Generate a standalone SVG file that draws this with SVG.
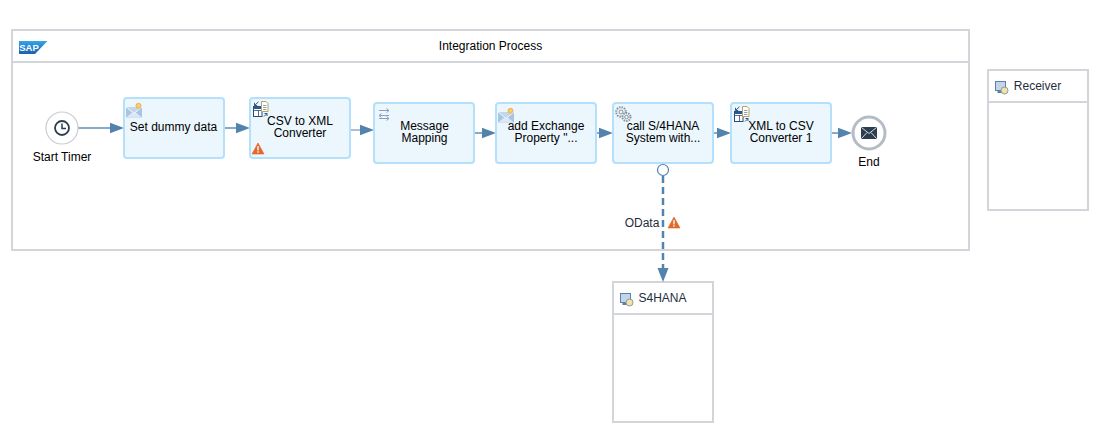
<svg xmlns="http://www.w3.org/2000/svg" width="1106" height="440" viewBox="0 0 1106 440">
<style>
text{font-family:"Liberation Sans",Arial,sans-serif;font-size:12px;fill:#000;text-anchor:middle}
.pool{fill:#fff;stroke:#d2d6db;stroke-width:2}
.hd{fill:none;stroke:#d2d6db;stroke-width:2}
.step{fill:#ebf6fd;stroke:#b5e0fb;stroke-width:2}
.conn{stroke:#8aa9c6;stroke-width:2;fill:none}
.tip{fill:#5382ad}
.dark{fill:#2c3e50}
.lbl{fill:#1f2d3d}
.gear{fill:none;stroke:#8a939c;stroke-width:1}
</style>
<defs>
<linearGradient id="sapg" x1="0" y1="0" x2="0" y2="1"><stop offset="0" stop-color="#35a3e8"/><stop offset="1" stop-color="#1b60b0"/></linearGradient>
<g id="warn"><path d="M6 0L12 11H0Z" fill="#e2692b" stroke="#e2692b" stroke-width="0.600" stroke-linejoin="round"/><rect x="5.300" y="3.200" width="1.400" height="4.200" fill="#fff"/><rect x="5.300" y="8.200" width="1.400" height="1.500" fill="#fff"/></g>
<g id="mail"><rect x="0" y="4" width="16" height="10.500" fill="#a9c4e0"/><path d="M0 14.500L8 8L16 14.500" fill="#dbe8f4"/><path d="M0 4L8 10.500L16 4" fill="#c3d7ea" stroke="#fff" stroke-width="0.800"/><circle cx="12.500" cy="2.800" r="2.500" fill="#f7d54a" stroke="#eda67a" stroke-width="1"/></g>
<g id="conv"><rect x="0.500" y="5.500" width="8.500" height="10" fill="#fff" stroke="#2c4a70"/><rect x="0.500" y="5.500" width="8.500" height="2.500" fill="#2c5a90"/><path d="M0.500 9.500H9M5.500 9.500V15.500" fill="none" stroke="#2c4a70" stroke-width="0.800"/><path d="M8.500 0.500H13L15 2.500V10.500H8.500Z" fill="#fff" stroke="#b8a25c"/><path d="M10 4.500h3.500M10 6.500h3.500M10 8.500h3.500" stroke="#5a7ca0" stroke-width="0.700"/><path d="M5.500 0.800L1.500 4.500M1.500 1.800V4.500H4.200" fill="none" stroke="#2c5a90"/><path d="M11 15.500L14 12.500M11.500 12.500H14V15" fill="none" stroke="#2c5a90"/></g>
<g id="sys"><rect x="0.500" y="0.500" width="10" height="9" fill="#c3d5ea" stroke="#5d7fa8"/><rect x="2.500" y="9.500" width="8" height="2.500" fill="#5d7fa8"/><circle cx="9.500" cy="9.500" r="3.500" fill="#f1e3a0" stroke="#8c9aa8"/></g>
<g id="maparrow"><path d="M0 0.500H10M7.500 -1.500L10 0.500L7.500 2.500" fill="none" stroke="#8aa0bd" stroke-width="1"/></g>
</defs>

<g id="integration-process">
<rect class="pool" x="12" y="30" width="957" height="220"/>
<path class="hd" d="M12 62H969"/>
<path d="M19 41H47.500L35 54H19Z" fill="url(#sapg)"/>
<text x="29" y="51" style="font-size:9.500px;font-weight:bold;fill:#fff">SAP</text>
<text x="490.500" y="50">Integration Process</text>
</g>

<g id="receiver">
<rect class="pool" x="988" y="70" width="100" height="140"/>
<path class="hd" d="M988 102H1088"/>
<use href="#sys" x="995" y="81"/>
<text x="1037.500" y="90" class="lbl">Receiver</text>
</g>

<g id="s4hana">
<rect class="pool" x="613" y="282" width="100" height="140"/>
<path class="hd" d="M613 314H713"/>
<use href="#sys" x="620" y="293"/>
<text x="662.500" y="302" class="lbl">S4HANA</text>
</g>

<g id="connectors">
<path class="conn" d="M78 128H112"/><path class="tip" d="M110 122.800L124 128L110 133.200Z"/>
<path class="conn" d="M224 128H238"/><path class="tip" d="M236 122.800L250 128L236 133.200Z"/>
<path class="conn" d="M350 130H362" style="stroke:#5382ad;stroke-width:1"/><path class="tip" d="M360 124.800L374 130L360 135.200Z"/>
<path class="conn" d="M474 133H484"/><path class="tip" d="M482 127.800L496 133L482 138.200Z"/>
<path class="conn" d="M596 133H601"/><path class="tip" d="M599 127.800L613 133L599 138.200Z"/>
<path class="conn" d="M713 133H719"/><path class="tip" d="M717 127.800L731 133L717 138.200Z"/>
<path class="conn" d="M831 133H840"/><path class="tip" d="M838 127.800L852 133L838 138.200Z"/>
<path d="M663 176V270" fill="none" stroke="#5382ad" stroke-width="2.500" stroke-dasharray="7 4"/>
<path class="tip" d="M657.500 268H668.500L663 282Z"/>
<circle cx="663" cy="170" r="5.500" fill="#fff" stroke="#5382ad" stroke-width="1.200"/>
<g id="odata-label"><text x="642" y="227" class="lbl">OData</text><use href="#warn" x="668" y="217"/></g>
</g>

<g id="start-timer">
<circle cx="62" cy="128" r="16" fill="#fff" stroke="#c8cdd2" stroke-width="1.200"/>
<circle cx="62" cy="128" r="7" fill="none" stroke="#2c3e50" stroke-width="1.800"/>
<path d="M62 123.500V128.500H66" fill="none" stroke="#2c3e50" stroke-width="1.500"/>
<text x="62" y="161">Start Timer</text>
</g>

<g id="set-dummy-data">
<rect class="step" x="124" y="98" width="100" height="60" rx="3"/>
<use href="#mail" x="126" y="103"/>
<text x="173.500" y="131">Set dummy data</text>
</g>

<g id="csv-to-xml">
<rect class="step" x="250" y="98" width="100" height="60" rx="3"/>
<use href="#conv" x="253" y="101"/>
<text x="300" y="125">CSV to XML</text>
<text x="300" y="137">Converter</text>
<use href="#warn" x="252" y="143"/>
</g>

<g id="message-mapping">
<rect class="step" x="374" y="103" width="100" height="60" rx="3"/>
<use href="#maparrow" x="379" y="110"/>
<use href="#maparrow" transform="translate(389 115) scale(-1 1)"/>
<use href="#maparrow" x="379" y="118"/>
<text x="424.500" y="130">Message</text>
<text x="424.500" y="142">Mapping</text>
</g>

<g id="add-exchange-property">
<rect class="step" x="496" y="103" width="100" height="60" rx="3"/>
<use href="#mail" x="498" y="108"/>
<text x="546" y="130">add Exchange</text>
<text x="546" y="142">Property "...</text>
</g>

<g id="call-s4hana">
<rect class="step" x="613" y="103" width="100" height="60" rx="3"/>
<circle cx="621" cy="112" r="4.800" class="gear" stroke-width="1.800" style="stroke-width:2;stroke-dasharray:1.500 1"/>
<circle cx="621" cy="112" r="2" class="gear"/>
<circle cx="626.500" cy="117" r="4" fill="#ebf6fd" stroke="#8a939c" style="stroke-width:2;stroke-dasharray:1.500 1"/>
<circle cx="626.500" cy="117" r="1.800" class="gear"/>
<text x="663" y="130">call S/4HANA</text>
<text x="663" y="142">System with...</text>
</g>

<g id="xml-to-csv">
<rect class="step" x="731" y="103" width="100" height="60" rx="3"/>
<use href="#conv" x="734" y="106"/>
<text x="781" y="130">XML to CSV</text>
<text x="781" y="142">Converter 1</text>
</g>

<g id="end">
<circle cx="869" cy="133" r="16" fill="#fff" stroke="#b4bcc4" stroke-width="3"/>
<rect x="861" y="127" width="16" height="12" rx="1" class="dark"/>
<path d="M861.500 127.500L869 133.500L876.500 127.500M861.500 138.500L867 132.500M876.500 138.500L871 132.500" fill="none" stroke="#fff" stroke-width="0.800"/>
<text x="869" y="166">End</text>
</g>
</svg>
